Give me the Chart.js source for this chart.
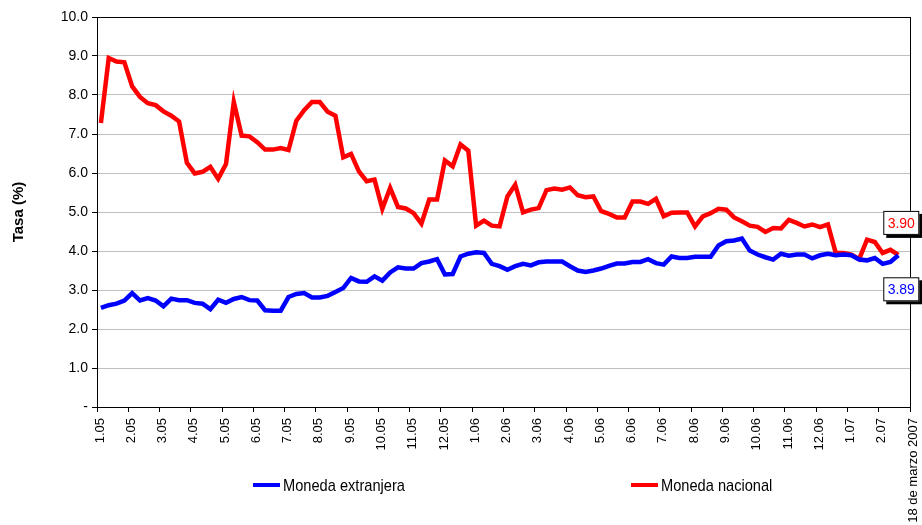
<!DOCTYPE html>
<html>
<head>
<meta charset="utf-8">
<script src="https://cdn.jsdelivr.net/npm/chart.js@4/dist/chart.umd.min.js"></script>
<style>
  html, body { margin: 0; padding: 0; background: #fff; }
  #wrap { width: 922px; height: 525px; }
</style>
</head>
<body>
<div id="wrap"><canvas id="tasas"></canvas></div>
<script>
// Tasas de interés semanales, enero 2005 - 18 de marzo 2007
const etiquetasMes = ['1.05','2.05','3.05','4.05','5.05','6.05','7.05','8.05','9.05','10.05','11.05','12.05',
    '1.06','2.06','3.06','4.06','5.06','6.06','7.06','8.06','9.06','10.06','11.06','12.06','1.07','2.07'];
const etiquetaFinal = '18 de marzo 2007';
const semanasPorMes = 4;

const monedaExtranjera = [
    2.54, 2.61, 2.65, 2.73, 2.92, 2.73, 2.79, 2.73, 2.58, 2.78, 2.74, 2.74, 2.67, 2.65, 2.51,
    2.75, 2.67, 2.77, 2.82, 2.74, 2.73, 2.48, 2.47, 2.47, 2.82, 2.90, 2.92, 2.81, 2.81, 2.85,
    2.95, 3.05, 3.31, 3.22, 3.21, 3.35, 3.24, 3.45, 3.58, 3.55, 3.55, 3.69, 3.73, 3.79, 3.40,
    3.41, 3.86, 3.93, 3.97, 3.95, 3.67, 3.61, 3.52, 3.61, 3.67, 3.63, 3.71, 3.73, 3.73,
    3.73, 3.61, 3.50, 3.46, 3.50, 3.55, 3.62, 3.68, 3.68, 3.72, 3.72, 3.79, 3.69, 3.65, 3.86,
    3.82, 3.82, 3.85, 3.85, 3.85, 4.14, 4.25, 4.27, 4.32, 4.01, 3.91, 3.84, 3.78, 3.93, 3.88,
    3.91, 3.91, 3.81, 3.89, 3.93, 3.89, 3.91, 3.89, 3.78, 3.76, 3.82, 3.67, 3.72, 3.89
];
const monedaNacional = [
    7.28, 8.95, 8.86, 8.84, 8.22, 7.95, 7.79, 7.74, 7.58, 7.47, 7.32, 6.26, 5.99, 6.03, 6.16,
    5.85, 6.23, 7.82, 6.96, 6.94, 6.79, 6.60, 6.60, 6.64, 6.59, 7.34, 7.61, 7.82, 7.82, 7.57,
    7.47, 6.40, 6.49, 6.04, 5.79, 5.83, 5.08, 5.62, 5.13, 5.09, 4.97, 4.70, 5.32, 5.32, 6.32,
    6.17, 6.73, 6.57, 4.65, 4.78, 4.65, 4.63, 5.40, 5.70, 4.99, 5.06, 5.10, 5.56, 5.60,
    5.57, 5.63, 5.43, 5.38, 5.40, 5.02, 4.95, 4.86, 4.86, 5.27, 5.27, 5.21, 5.34, 4.89, 4.98,
    4.99, 4.99, 4.63, 4.89, 4.97, 5.08, 5.06, 4.86, 4.76, 4.65, 4.62, 4.49, 4.59, 4.58, 4.80,
    4.72, 4.63, 4.68, 4.61, 4.68, 3.95, 3.95, 3.91, 3.79, 4.29, 4.23, 3.95, 4.03, 3.90
];

const azul = '#0000ff';
const rojo = '#ff0000';
const xMax = etiquetasMes.length * semanasPorMes;

const aPuntos = serie => serie.map((v, i) => ({ x: i + 0.5, y: v }));

// borde superior/derecho, leyenda y recuadros con el último valor
const decoracion = {
    id: 'decoracion',
    afterDraw(chart) {
        const ctx = chart.ctx;
        const { left, right, top, bottom } = chart.chartArea;
        ctx.save();
        ctx.strokeStyle = '#000';
        ctx.lineWidth = 1;
        ctx.strokeRect(left + 0.5, top + 0.5, right - left, bottom - top);

        // leyenda (texto estrecho)
        const items = [
            { texto: 'Moneda extranjera', color: azul, x: 253 },
            { texto: 'Moneda nacional', color: rojo, x: 631 }
        ];
        ctx.textBaseline = 'middle';
        items.forEach(it => {
            ctx.strokeStyle = it.color;
            ctx.lineWidth = 4;
            ctx.beginPath();
            ctx.moveTo(it.x, 485);
            ctx.lineTo(it.x + 27, 485);
            ctx.stroke();
            ctx.save();
            ctx.translate(it.x + 30, 486);
            ctx.scale(0.86, 1);
            ctx.font = '17px "Liberation Sans", Arial, sans-serif';
            ctx.fillStyle = '#000';
            ctx.fillText(it.texto, 0, 0);
            ctx.restore();
        });

        // recuadros de último dato
        const xs = chart.scales.x, ys = chart.scales.y;
        const cajas = [
            { serie: monedaNacional, color: rojo, dy: -32 },
            { serie: monedaExtranjera, color: azul, dy: 34 }
        ];
        ctx.font = '14px "Liberation Sans", Arial, sans-serif';
        ctx.textAlign = 'center';
        cajas.forEach(c => {
            const n = c.serie.length;
            const v = c.serie[n - 1];
            const px = xs.getPixelForValue(n - 0.5) + 3;
            const py = ys.getPixelForValue(v) + c.dy;
            const w = 36, h = 24;
            ctx.fillStyle = '#000';
            ctx.fillRect(px - w / 2 + 3, py - h / 2 + 3, w, h);
            ctx.fillStyle = '#fff';
            ctx.fillRect(px - w / 2, py - h / 2, w, h);
            ctx.strokeStyle = '#000';
            ctx.lineWidth = 1;
            ctx.strokeRect(px - w / 2 + 0.5, py - h / 2 + 0.5, w - 1, h - 1);
            ctx.fillStyle = c.color;
            ctx.fillText(v.toFixed(2), px, py + 1);
        });
        ctx.restore();
    }
};

new Chart(document.getElementById('tasas').getContext('2d'), {
    type: 'line',
    data: {
        datasets: [
            {
                label: 'Moneda extranjera',
                data: aPuntos(monedaExtranjera),
                borderColor: azul,
                borderWidth: 4.5,
                pointRadius: 0,
                tension: 0,
            },
            {
                label: 'Moneda nacional',
                data: aPuntos(monedaNacional),
                borderColor: rojo,
                borderWidth: 4.5,
                pointRadius: 0,
                tension: 0,
            }
        ]
    },
    options: {
        responsive: true,
        maintainAspectRatio: false,
        animation: false,
        layout: { padding: { left: 0, right: 12, top: 17, bottom: 0 } },
        scales: {
            x: {
                type: 'linear',
                min: 0,
                max: xMax,
                afterFit: (scale) => {
                    scale.height = 118;
                    scale.paddingLeft = 0;
                    scale.paddingRight = 0;
                },
                afterBuildTicks: (scale) => {
                    const t = [];
                    for (let v = 0; v <= xMax; v += semanasPorMes) t.push({ value: v });
                    scale.ticks = t;
                },
                grid: { drawOnChartArea: false, tickLength: 5, color: '#000' },
                border: { color: '#000', width: 1 },
                ticks: {
                    autoSkip: false,
                    maxRotation: 90,
                    minRotation: 90,
                    padding: 6,
                    labelOffset: 3,
                    color: '#000',
                    font: { family: '"Liberation Sans", Arial, sans-serif', size: 13 },
                    callback: (v) => {
                        const k = Math.round(v / semanasPorMes);
                        return k < etiquetasMes.length ? etiquetasMes[k] : etiquetaFinal;
                    }
                }
            },
            y: {
                min: 0,
                max: 10,
                afterFit: (scale) => { scale.width = 97; },
                grid: { color: '#c0c0c0', tickLength: 5, tickColor: '#000' },
                border: { color: '#000', width: 1 },
                ticks: {
                    stepSize: 1,
                    padding: 4,
                    color: '#000',
                    font: { family: '"Liberation Sans", Arial, sans-serif', size: 14 },
                    callback: (v) => v === 0 ? '-' : v.toFixed(1)
                },
                title: {
                    display: true,
                    text: 'Tasa (%)',
                    color: '#000',
                    padding: { top: 10, bottom: 0 },
                    font: { family: '"Liberation Sans", Arial, sans-serif', size: 15, weight: 'bold' }
                }
            }
        },
        plugins: {
            legend: { display: false },
            tooltip: { enabled: false }
        }
    },
    plugins: [decoracion]
});
</script>
</body>
</html>
